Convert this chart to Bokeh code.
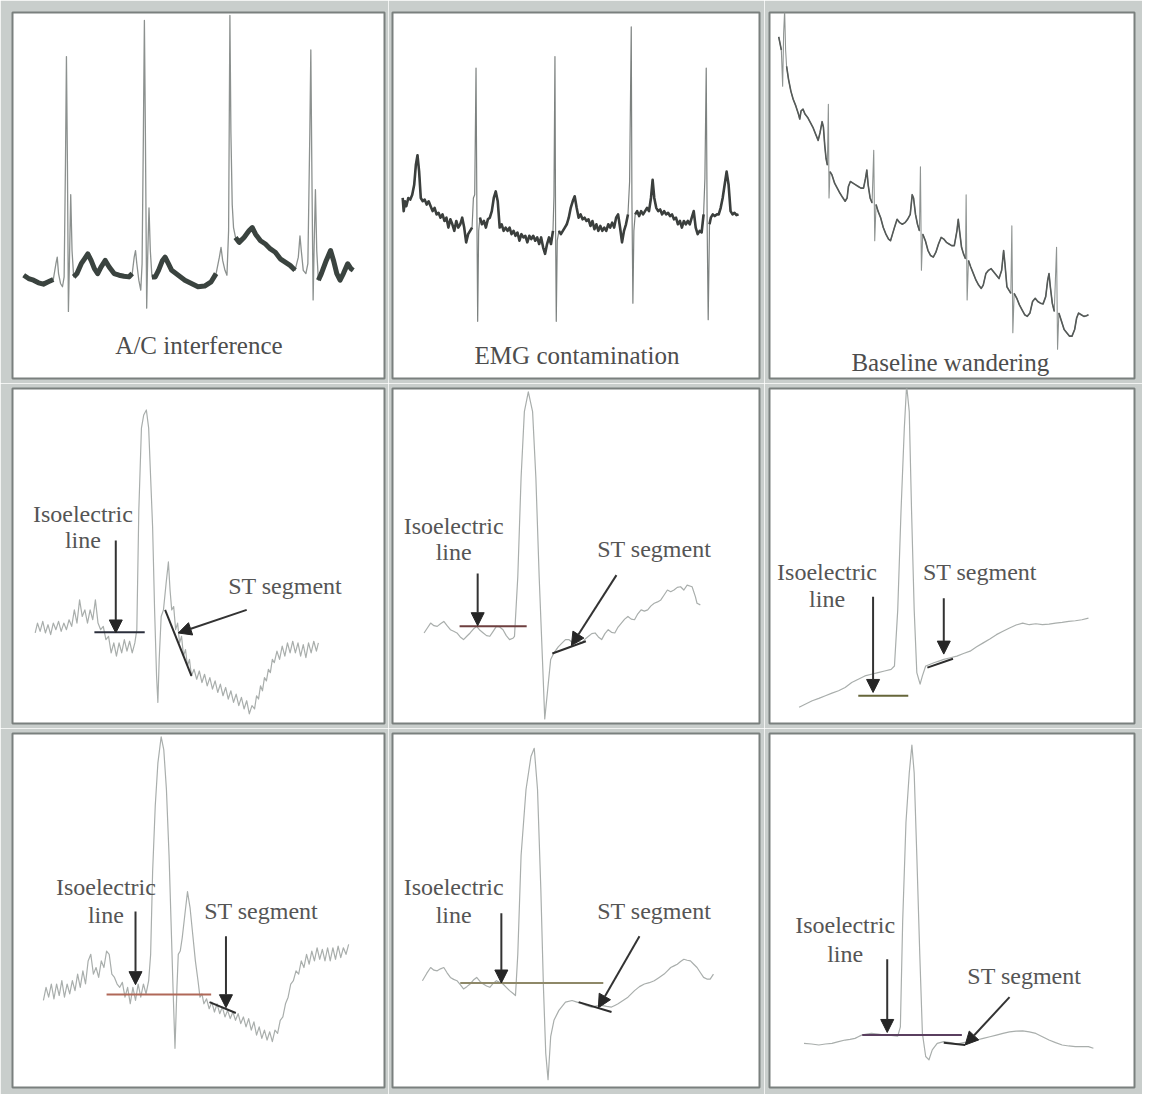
import numpy as np
from bokeh.plotting import figure
from bokeh.layouts import gridplot
from bokeh.models import Range1d, Arrow, NormalHead
from bokeh.embed import file_html
from bokeh.resources import INLINE
from bokeh.core.properties import value

# ---------------- DATA (time, trace level; level axis increases downward) ----------------
# Panel 1: A/C interference
ac_trace = [(70,835),(85,845),(100,850),(115,858),(130,862),(145,855),(160,848),(168,800),(172,780),(176,830),
            (182,860),(188,870),(193,840),(197,500),(200,170),(203,500),(206,945),(209,800),(213,590),(217,760),
            (222,840),(232,830),(245,800),(255,785),(265,770),(275,790),(285,815),(295,830),(305,810),(318,790),
            (330,810),(345,830),(360,835),(375,838),(390,840),(400,830),(406,780),(410,760),(414,800),(420,850),
            (426,880),(430,800),(434,400),(437,60),(440,400),(444,935),(447,780),(451,630),(455,760),(460,840),
            (470,840),(480,820),(492,790),(500,780),(510,800),(520,820),(540,835),(560,850),(580,860),(600,870),
            (620,868),(640,855),(655,830),(665,780),(670,750),(675,790),(682,820),(688,835),(693,700),(697,45),
            (700,400),(704,620),(708,690),(714,720),(725,735),(740,720),(755,700),(765,690),(775,710),(790,730),
            (805,740),(820,755),(835,765),(850,785),(865,795),(880,805),(895,820),(905,780),(910,715),(914,760),
            (920,820),(928,830),(934,800),(940,400),(943,150),(946,500),(950,910),(953,750),(957,575),(961,760),
            (966,850),(975,830),(990,790),(1003,760),(1012,790),(1022,830),(1032,850),(1042,830),(1055,800),
            (1065,815),(1072,820)]
ac_qrs = [(163,219),(402,457),(660,711),(900,962)]

# Panel 2: EMG contamination
emg_trace = [(55,600),(58,640),(62,610),(66,625),(72,600),(78,605),(84,590),(90,560),(95,500),(100,470),
             (105,520),(110,600),(116,610),(122,605),(128,620),(134,610),(140,625),(146,640),(152,630),(158,650),
             (164,645),(170,660),(176,650),(182,670),(188,660),(194,690),(200,665),(206,680),(212,700),(218,670),
             (224,690),(230,680),(236,660),(242,690),(248,735),(254,710),(260,700),(266,690),(270,600),(274,590),
             (278,205),(281,700),(283,975),(286,700),(290,660),(296,680),(302,670),(308,690),(314,665),(320,660),
             (326,640),(332,600),(338,580),(344,610),(350,690),(356,680),(362,700),(368,690),(374,700),(380,690),
             (386,710),(392,700),(398,715),(404,705),(410,730),(416,710),(422,720),(428,715),(434,735),(440,715),
             (446,725),(452,715),(458,730),(464,720),(470,740),(476,720),(482,750),(488,770),(494,740),(500,720),
             (506,740),(512,700),(515,595),(518,170),(520,700),(522,975),(525,730),(530,700),(536,710),(542,700),
             (548,690),(554,680),(560,660),(566,630),(572,610),(578,595),(584,630),(590,660),(596,650),(602,665),
             (608,660),(614,670),(620,665),(626,685),(632,670),(638,695),(644,680),(650,700),(656,685),(662,700),
             (668,690),(674,700),(680,680),(686,690),(692,675),(698,690),(704,660),(710,650),(716,690),(722,735),
             (728,700),(734,680),(740,650),(745,550),(750,80),(752,600),(755,920),(758,700),(762,650),(768,640),
             (774,655),(780,640),(786,650),(792,640),(798,630),(804,640),(810,600),(815,545),(820,600),(826,630),
             (832,640),(838,635),(844,650),(850,640),(856,650),(862,645),(868,655),(874,650),(880,665),(886,660),
             (892,680),(898,670),(904,690),(910,670),(916,680),(922,670),(928,680),(934,660),(940,640),(946,690),
             (952,710),(958,700),(964,705),(970,650),(974,540),(978,205),(981,700),(984,970),(988,680),(992,660),
             (998,650),(1004,655),(1010,650),(1016,650),(1022,630),(1028,600),(1034,560),(1040,520),(1046,560),
             (1052,640),(1058,650),(1064,645),(1070,652),(1076,650)]
emg_qrs = [(268,289),(513,527),(743,759),(972,987)]

# Panel 3: Baseline wandering
bw_trace = [(58,110),(62,130),(66,150),(70,260),(73,100),(76,30),(79,150),(82,200),(88,240),(95,275),
            (102,300),(110,320),(118,345),(122,360),(126,335),(132,330),(138,345),(146,355),(154,370),(162,385),
            (170,405),(178,425),(184,400),(190,368),(194,385),(198,440),(202,480),(206,500),(209,315),(211,600),
            (214,520),(220,530),(228,555),(236,570),(244,585),(252,598),(260,610),(266,600),(270,565),(276,550),
            (284,555),(292,560),(300,565),(308,570),(316,570),(322,540),(326,515),(330,560),(336,600),(342,615),
            (347,455),(350,730),(354,620),(360,640),(368,660),(376,690),(384,710),(392,725),(398,730),(404,710),
            (410,690),(418,665),(426,675),(434,680),(442,675),(450,665),(458,650),(464,590),(468,600),(474,650),
            (480,680),(486,700),(489,505),(492,820),(496,710),(504,730),(512,760),(520,775),(528,780),(536,765),
            (544,740),(552,720),(560,725),(568,735),(576,740),(584,745),(592,745),(600,700),(604,665),(608,700),
            (614,750),(620,770),(626,785),(628,590),(631,910),(635,790),(642,810),(650,830),(658,850),(666,865),
            (674,875),(680,865),(688,830),(696,820),(704,815),(712,825),(720,835),(728,845),(736,820),(742,760),
            (746,800),(752,870),(758,880),(764,890),(767,685),(770,1010),(774,890),(782,905),(790,925),(798,940),
            (806,955),(814,960),(822,950),(830,915),(838,905),(846,915),(854,920),(862,922),(870,900),(876,850),
            (880,830),(884,870),(890,920),(896,945),(903,750),(906,1060),(910,950),(918,975),(926,1000),(934,1010),
            (942,1020),(950,1020),(958,1000),(964,965),(970,950),(978,955),(986,960),(994,958),(1000,955)]
bw_qrs = [(67,81),(207,213),(345,353),(488,494),(627,633),(766,772),(902,908)]

# Panel 4: noisy beat, ST depression
p4_trace = [(105,770),(112,740),(120,765),(128,735),(136,770),(144,745),(152,775),(160,740),(168,760),(176,735),
            (184,765),(192,740),(200,760),(208,730),(216,750),(224,700),(232,740),(240,670),(248,720),(256,700),
            (264,740),(272,700),(280,730),(288,670),(296,740),(304,760),(312,750),(320,790),(328,780),(336,830),
            (344,800),(352,840),(360,800),(368,830),(376,790),(384,825),(392,795),(400,830),(408,800),(414,760),
            (420,400),(428,150),(435,110),(443,95),(450,150),(456,300),(462,450),(468,700),(474,900),(478,980),
            (482,850),(488,720),(495,700),(503,620),(510,555),(515,640),(520,700),(526,690),(532,760),(538,740),
            (544,800),(550,780),(556,840),(562,820),(568,870),(574,850),(580,900),(588,880),(596,910),(604,885),
            (612,920),(620,895),(628,930),(636,905),(644,940),(652,915),(660,950),(668,925),(676,960),(684,935),
            (692,970),(700,945),(708,980),(716,955),(724,990),(732,965),(740,1000),(748,975),(756,1015),(764,990),
            (772,1000),(778,960),(784,970),(790,930),(796,945),(802,905),(808,915),(814,880),(820,890),(826,850),
            (832,860),(840,825),(848,850),(856,810),(864,840),(872,800),(880,830),(888,795),(896,830),(904,800),
            (912,840),(920,805),(928,845),(936,800),(944,830),(952,795),(960,825),(966,800)]

# Panel 5: clean beat, upsloping ST
p5_trace = [(120,770),(130,755),(140,740),(150,748),(160,750),(170,742),(180,735),(190,748),(200,760),(210,765),
            (220,770),(230,782),(240,790),(250,780),(260,770),(270,758),(280,750),(290,762),(300,770),(310,778),
            (320,780),(330,765),(340,750),(350,752),(360,760),(370,778),(380,790),(390,786),(395,780),(405,600),
            (415,300),(425,100),(437,40),(450,100),(460,300),(470,600),(480,850),(487,1030),(495,950),(505,850),
            (515,830),(528,812),(540,800),(550,790),(560,790),(570,798),(580,800),(590,795),(600,800),(610,788),
            (620,780),(630,772),(640,770),(650,782),(660,790),(670,772),(680,760),(690,768),(700,770),(710,752),
            (720,740),(730,728),(740,720),(750,728),(760,730),(770,712),(780,700),(790,704),(800,700),(810,688),
            (820,680),(830,676),(840,670),(850,655),(860,640),(870,645),(880,640),(890,632),(900,630),(910,640),
            (920,625),(935,630),(945,660),(950,680),(960,685)]

# Panel 6: baseline drift, small ST
p6_trace = [(120,995),(140,985),(160,975),(180,968),(200,960),(220,952),(240,945),(260,935),(280,920),(300,910),
            (320,900),(340,895),(360,890),(380,885),(400,880),(410,870),(420,700),(430,400),(440,150),(447,20),
            (455,100),(462,400),(470,700),(478,890),(488,925),(495,900),(505,870),(515,866),(530,860),(545,855),
            (560,850),(580,845),(600,840),(620,832),(640,825),(660,812),(680,800),(700,788),(720,775),(740,765),
            (760,755),(780,746),(800,740),(820,745),(840,742),(860,745),(880,743),(900,740),(920,738),(940,735),
            (960,733),(980,730),(1000,725)]

# Panel 7: noisy beat, ST depression
p7_trace = [(130,840),(138,800),(146,830),(154,790),(162,835),(170,790),(178,825),(186,780),(194,830),(202,790),
            (210,820),(218,780),(226,810),(234,760),(242,800),(250,750),(258,790),(266,720),(274,700),(282,760),
            (290,740),(298,770),(306,720),(314,740),(322,690),(330,700),(338,760),(346,770),(354,790),(362,800),
            (370,785),(378,830),(386,800),(394,850),(402,800),(410,840),(418,790),(426,830),(434,790),(442,820),
            (450,780),(456,700),(462,450),(470,250),(478,120),(488,40),(496,80),(504,200),(512,400),(518,600),
            (524,800),(530,985),(536,800),(540,700),(546,690),(552,650),(560,580),(568,510),(576,560),(584,640),
            (592,720),(600,780),(606,830),(612,820),(618,850),(626,835),(634,865),(642,845),(650,875),(658,850),
            (666,880),(674,860),(682,890),(690,870),(698,895),(706,875),(714,900),(722,880),(730,910),(738,890),
            (746,920),(754,895),(762,930),(770,905),(778,945),(786,920),(794,955),(802,930),(810,960),(818,935),
            (826,965),(834,930),(842,940),(850,900),(858,890),(866,850),(874,830),(882,790),(890,780),(898,750),
            (906,760),(914,720),(922,740),(930,700),(938,730),(946,690),(954,720),(962,680),(970,715),(978,685),
            (986,720),(994,680),(1002,720),(1010,680),(1018,715),(1026,675),(1034,710),(1042,680),(1050,700),
            (1058,670)]

# Panel 8: clean beat, ST depression
p8_trace = [(115,780),(128,758),(140,740),(150,748),(160,750),(170,744),(180,740),(190,756),(200,770),(210,776),
            (220,780),(230,792),(240,805),(250,798),(260,790),(270,778),(280,770),(290,782),(300,790),(310,796),
            (320,800),(330,788),(340,780),(350,785),(360,790),(370,800),(380,810),(390,818),(398,825),(405,700),
            (415,400),(430,200),(445,100),(455,75),(465,200),(475,500),(483,800),(490,1000),(497,1080),(505,950),
            (515,900),(530,870),(550,845),(570,840),(585,845),(600,850),(615,856),(630,860),(645,856),(660,855),
            (675,858),(690,860),(700,855),(710,850),(725,840),(740,830),(750,820),(760,810),(775,798),(790,790),
            (805,786),(820,780),(835,770),(850,760),(860,750),(870,740),(880,735),(890,730),(900,722),(910,715),
            (920,718),(930,720),(940,730),(950,740),(960,755),(970,770),(980,775),(990,775),(1000,760)]

# Panel 9: clean beat, ST near baseline
p9_trace = [(135,970),(158,972),(180,975),(200,972),(220,970),(240,965),(260,960),(275,958),(290,955),(300,950),
            (310,945),(325,942),(340,940),(360,942),(380,945),(400,946),(420,948),(428,920),(435,600),(445,300),
            (455,150),(463,65),(470,150),(478,400),(487,700),(495,940),(505,1010),(515,1020),(525,990),(540,970),
            (560,965),(580,968),(600,972),(620,968),(640,965),(660,960),(680,955),(700,950),(720,945),(740,940),
            (760,935),(780,933),(800,932),(820,935),(840,940),(860,950),(880,960),(900,968),(920,975),(940,978),
            (960,980),(980,980),(1000,980),(1015,985)]

panel_titles = ["A/C interference", "EMG contamination", "Baseline wandering"]
iso_label = ["Isoelectric", "line"]
st_label = "ST segment"

# ---------------- LAYOUT / STYLE ----------------
col_w = [388, 376, 378]
row_h = [383, 345, 366]
col_b = [(12, 4), (4, 5), (5, 8)]
row_b = [(12, 5), (5, 5), (5, 7)]
col_x = [(36, 1167), (24, 1140), (30, 1140)]
row_y = [(1149, 36), (1044, 30), (1104, 30)]

SERIF = value("Liberation Serif")


def make_panel(r, c):
    p = figure(width=col_w[c], height=row_h[r],
               x_range=Range1d(*col_x[c]), y_range=Range1d(*row_y[r]),
               x_axis_type=None, y_axis_type=None,
               toolbar_location=None, output_backend="svg",
               min_border_left=col_b[c][0], min_border_right=col_b[c][1],
               min_border_top=row_b[r][0], min_border_bottom=row_b[r][1])
    p.border_fill_color = "#c9cecc"
    p.background_fill_color = "white"
    p.outline_line_color = "#7a807e"
    p.outline_line_width = 2
    return p


def xy(trace):
    a = np.array(trace, dtype=float)
    return a[:, 0], a[:, 1]


def banded(p, trace, windows, thin_color, thin_w, band_color, band_w):
    t, y = xy(trace)
    p.line(t, y, line_color=thin_color, line_width=thin_w, line_join="round")
    band = y.copy()
    for a, b in windows:
        band[(t > a) & (t < b)] = np.nan
    p.line(t, band, line_color=band_color, line_width=band_w, line_join="round", line_cap="butt")


def title(p, x, y, txt):
    p.text(x=[x], y=[y], text=[txt], text_font=SERIF, text_font_size="25px",
           text_color="#4d4d4d", text_align="center", text_baseline="middle")


def annotate(p, trace, iso, iso_color, iso_arrow, st, st_arrow, iso_txt, st_txt):
    t, y = xy(trace)
    p.line(t, y, line_color="#a9aeac", line_width=1.2, line_join="round")
    p.line(x=[iso[0], iso[1]], y=[iso[2], iso[2]], line_color=iso_color, line_width=2)
    p.line(x=[st[0], st[2]], y=[st[1], st[3]], line_color="#2d2d2d", line_width=2)
    for (x0, y0, x1, y1) in (iso_arrow, st_arrow):
        p.add_layout(Arrow(end=NormalHead(size=13, fill_color="#262626", line_color="#262626"),
                           x_start=x0, y_start=y0, x_end=x1, y_end=y1,
                           line_color="#333333", line_width=2))
    p.text(x=[iso_txt[0], iso_txt[0], st_txt[0]], y=[iso_txt[1], iso_txt[2], st_txt[1]],
           text=[iso_label[0], iso_label[1], st_label], text_font=SERIF, text_font_size="24px",
           text_color="#555555", text_align="center", text_baseline="middle")


panels = [[make_panel(r, c) for c in range(3)] for r in range(3)]

# Row 1
p = panels[0][0]
banded(p, ac_trace, ac_qrs, "#8c918f", 1.3, "#3a433f", 5)
title(p, 603, 1050, panel_titles[0])

p = panels[0][1]
banded(p, emg_trace, emg_qrs, "#7d8280", 1.2, "#3b3f3d", 2.6)
title(p, 585, 1080, panel_titles[1])

p = panels[0][2]
banded(p, bw_trace, bw_qrs, "#8f9492", 1.1, "#555a58", 1.6)
title(p, 580, 1100, panel_titles[2])

# Row 2
annotate(panels[1][0], p4_trace, (285, 438, 768), "#2b2f3c", (350, 490, 350, 770),
         (500, 700, 580, 900), (748, 700, 540, 770), (250, 410, 490), (865, 628))
annotate(panels[1][1], p5_trace, (228, 432, 750), "#6e3f3f", (283, 590, 283, 748),
         (510, 832, 612, 795), (705, 595, 568, 808), (210, 445, 525), (820, 515))
annotate(panels[1][2], p6_trace, (300, 452, 960), "#66663a", (345, 660, 345, 950),
         (510, 875, 588, 848), (560, 665, 560, 834), (205, 585, 668), (670, 585))

# Row 3
annotate(panels[2][0], p7_trace, (322, 640, 822), "#b06858", (410, 570, 410, 792),
         (635, 845, 715, 878), (685, 645, 685, 862), (320, 495, 580), (792, 570))
annotate(panels[2][1], p8_trace, (230, 665, 787), "#8e8868", (355, 575, 355, 787),
         (590, 845, 690, 875), (775, 645, 650, 862), (210, 495, 580), (820, 570))
annotate(panels[2][2], p9_trace, (312, 615, 945), "#5a3f5f", (388, 715, 388, 937),
         (560, 968, 625, 975), (760, 830, 625, 975), (260, 612, 700), (805, 765))

grid = gridplot(panels, toolbar_location=None)

with open("out.html", "w") as f:
    f.write(file_html(grid, INLINE))
